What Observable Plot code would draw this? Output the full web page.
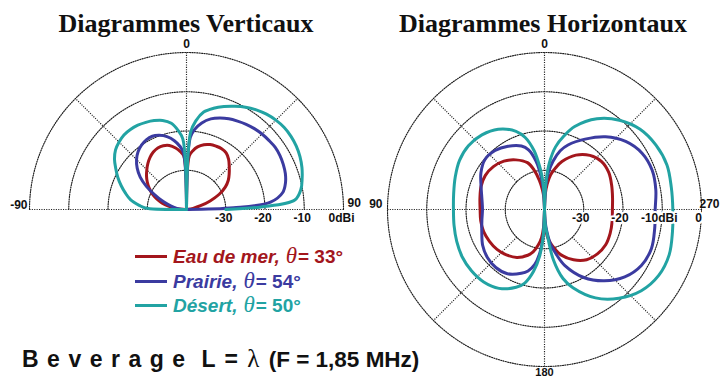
<!DOCTYPE html>
<html>
<head>
<meta charset="utf-8">
<script src="https://cdn.jsdelivr.net/npm/d3@7"></script>
<script src="https://cdn.jsdelivr.net/npm/@observablehq/plot@0.6"></script>
<style>
  html, body { margin: 0; padding: 0; background: #fff; }
  #page { position: relative; width: 721px; height: 379px; overflow: hidden; background: #fff; }
  #page svg { position: absolute; left: 0; top: 0; }
  .title { position: absolute; font: bold 26px "Liberation Serif", "Times New Roman", serif; color: #111; line-height: 26px; white-space: nowrap; transform: translateX(-50%); }
  .legend { position: absolute; left: 135px; top: 243px; font: italic bold 19px "Liberation Sans", Arial, sans-serif; }
  .legend .row { position: relative; height: 24.5px; line-height: 24px; white-space: nowrap; }
  .legend .sw { display: inline-block; width: 32px; height: 3px; vertical-align: middle; margin-right: 6px; position: relative; top: -1px; }
  .legend .th { font: italic 23px "Liberation Serif", "Times New Roman", serif; margin: 0 1px 0 6px; }
  .legend .val { font-style: normal; }
  .caption { position: absolute; left: 22px; top: 345px; font: bold 23px "Liberation Sans", Arial, sans-serif; line-height: 23px; white-space: nowrap; color: #111; }
  .caption .spaced { letter-spacing: 8.5px; }
  .caption .eq { letter-spacing: 1.5px; }
  .caption .lam { font: 25px "Liberation Serif", "Times New Roman", serif; letter-spacing: 3px; }
  .caption .small { font-size: 22.5px; }
</style>
</head>
<body>
<div id="page"></div>
<script>
// ---- radiation pattern data (gain in dBi) ----
// Vertical cut: angle measured from the zenith, negative towards the back (-90 .. 90)
const vertAngles = [-90, -88, -85, -80, -75, -70, -65, -60, -55, -50, -45, -40, -35, -30, -25, -20, -15, -10, -6, -3, 0,
                    3, 6, 10, 15, 20, 25, 30, 35, 40, 45, 50, 55, 60, 65, 70, 75, 80, 85, 88, 90];
const vertSea = [-40, -38.8, -37.2, -35.5, -33.5, -31.8, -30.3, -29.0, -27.8, -26.7, -25.7, -24.7, -23.8, -23.1, -22.7, -22.7, -23.1, -24.1, -25.2, -26.3, -40,
                 -26.3, -25.0, -23.8, -22.9, -22.4, -22.2, -22.1, -22.4, -23.3, -24.6, -25.8, -27.0, -28.6, -30.8, -33.6, -36.3, -38.3, -39.5, -39.9, -40];
const vertPrairie = [-40, -39.4, -38.2, -36.8, -35.2, -33.3, -31.0, -28.2, -25.6, -23.6, -22.0, -20.8, -20.0, -19.5, -19.4, -19.9, -20.8, -22.2, -23.8, -25.6, -40,
                     -21.6, -19.4, -17.6, -16.1, -15.2, -14.5, -14.0, -13.5, -13.1, -12.8, -12.6, -12.4, -12.5, -12.8, -13.2, -13.9, -15.1, -18.5, -28.0, -40];
const vertDesert = [-40, -29.5, -27.9, -25.5, -23.9, -22.3, -20.7, -19.2, -17.6, -16.4, -15.7, -15.2, -15.1, -15.2, -15.5, -15.9, -16.5, -17.7, -19.8, -22.0, -40,
                    -20.3, -17.3, -14.8, -13.3, -12.1, -11.0, -9.9, -9.0, -8.3, -7.8, -7.5, -7.5, -7.7, -8.1, -8.7, -9.5, -10.4, -12.3, -21.0, -30];

// Horizontal cut: azimuth, 0 at the top, 90 on the left, 270 on the right
const horizAngles = [0, 3, 6, 10, 15, 20, 30, 40, 50, 60, 70, 80, 90, 100, 110, 120, 130, 140, 150, 160, 165, 170, 174, 177, 180,
                     183, 186, 190, 195, 200, 210, 220, 230, 240, 250, 260, 270, 280, 290, 300, 310, 320, 330, 340, 345, 350, 354, 357, 360];
const horizSea = [-40, -37.0, -35.0, -32.5, -29.5, -27.3, -25.4, -23.9, -23.0, -22.6, -22.8, -23.3, -23.6, -23.5, -23.5, -23.8, -24.2, -24.9, -25.9, -27.6, -28.8, -30.8, -32.8, -35.5, -40,
                  -35.5, -33.0, -31.3, -29.5, -27.7, -25.2, -23.3, -22.4, -22.0, -22.2, -22.5, -22.7, -22.4, -21.8, -21.1, -21.0, -22.0, -24.0, -27.0, -29.0, -31.0, -33.5, -36.0, -40];
const horizPrairie = [-40, -35.0, -31.5, -27.5, -24.3, -22.8, -21.4, -20.4, -20.2, -21.3, -22.8, -23.8, -24.2, -23.8, -23.0, -21.8, -21.0, -20.7, -21.1, -22.7, -23.8, -25.8, -29.0, -33.0, -40,
                      -37.0, -34.5, -31.0, -28.0, -24.8, -20.0, -16.3, -13.3, -11.5, -11.0, -11.5, -11.8, -11.2, -10.8, -11.3, -13.0, -15.8, -19.3, -22.5, -24.5, -27.5, -30.5, -34.0, -40];
const horizDesert = [-40, -33.2, -29.5, -24.8, -21.0, -18.8, -16.4, -15.2, -14.7, -15.0, -15.8, -16.5, -16.8, -16.6, -16.2, -15.8, -15.7, -15.9, -16.8, -18.9, -20.6, -24.0, -28.0, -32.5, -40,
                     -36.0, -33.8, -27.0, -21.8, -18.8, -14.0, -10.5, -7.8, -6.4, -6.2, -6.9, -7.3, -7.2, -6.8, -7.2, -8.2, -10.3, -13.3, -17.5, -20.5, -23.8, -28.0, -33.0, -40];

// ---- series, grid and labels ----
const seriesNames = ["Eau de mer", "Prairie", "Désert"];
const seriesTheta = [33, 54, 50];
const seriesColors = ["#a3161c", "#3b3ba0", "#22a3a3"];

const dbFloor = -40;                    // gain at the centre of the polar grid
const ringLevels = [-30, -20, -10, 0];  // dBi circles
const vertRingLabels = ["-30", "-20", "-10", "0dBi"];
const horizRingLabels = ["-30", "-20", "-10dBi", "0"];
const vertAngleLabels = ["-90", "0", "90"];
const horizAngleLabels = ["0", "90", "180", "270"];

const titles = ["Diagrammes Verticaux", "Diagrammes Horizontaux"];

// ---- geometry helpers (data units: dB above the floor) ----
const rad = d => d * Math.PI / 180;
const radius = db => db - dbFloor;
const outer = radius(ringLevels[ringLevels.length - 1]);
const inner = radius(ringLevels[0]);
// vertical cut: angle from zenith, positive to the right
const vXY = (a, r) => ({x: r * Math.sin(rad(a)), y: r * Math.cos(rad(a))});
// horizontal cut: azimuth counter-clockwise from the top
const hXY = (a, r) => ({x: -r * Math.sin(rad(a)), y: r * Math.cos(rad(a))});

// one line per lobe so that each lobe closes cleanly on the centre
function lobes(angles, values, split, toXY) {
  const rows = [];
  angles.forEach((a, i) => {
    const p = toXY(a, radius(values[i]));
    if (a <= split) rows.push({lobe: 0, ...p});
    if (a >= split) rows.push({lobe: 1, ...p});
  });
  return rows;
}

const vertSeries = [vertSea, vertPrairie, vertDesert];
const horizSeries = [horizSea, horizPrairie, horizDesert];

const R_PX = 157;               // outer ring radius on screen
const cy = 209;
const centers = [186, 544];

const gridStyle = {stroke: "#1e1e1e", strokeWidth: 1.15, strokeDasharray: "1.1,1.3"};
const labelFont = {fontFamily: "Liberation Sans, Arial, sans-serif", fontWeight: "bold", fontSize: 12, fill: "#111"};

function scales(cx) {
  return {
    x: {domain: [-outer, outer], range: [cx - R_PX, cx + R_PX]},
    y: {domain: [-outer, outer], range: [cy + R_PX, cy - R_PX]}
  };
}

function curveMarks(series, angles, split, toXY) {
  return series.map((vals, k) =>
    Plot.line(lobes(angles, vals, split, toXY), {
      x: "x", y: "y", z: "lobe", stroke: seriesColors[k], strokeWidth: 3,
      curve: "catmull-rom", strokeLinejoin: "round", strokeLinecap: "round"
    })
  );
}

// ---- vertical diagram ----
const vArc = d3.range(-90, 90.01, 1.5);
const vRings = ringLevels.flatMap(l => vArc.map(a => ({ring: l, ...vXY(a, radius(l))})));
const vSpokes = [
  ...[-90, 0, 90].map(a => ({a, r0: 0})),
  ...[-45, 45].map(a => ({a, r0: inner}))
].map(s => ({x1: vXY(s.a, s.r0).x, y1: vXY(s.a, s.r0).y, x2: vXY(s.a, outer).x, y2: vXY(s.a, outer).y}));

const vertPlot = Plot.plot({
  width: 721, height: 379,
  ...scales(centers[0]),
  axis: null,
  style: {background: "transparent", overflow: "visible"},
  marks: [
    Plot.line(vRings, {x: "x", y: "y", z: "ring", ...gridStyle}),
    Plot.link(vSpokes, {x1: "x1", y1: "y1", x2: "x2", y2: "y2", ...gridStyle}),
    ...curveMarks(vertSeries, vertAngles, 0, vXY),
    Plot.text(ringLevels, {x: d => radius(d), y: 0, text: (d, i) => vertRingLabels[i], dy: 9, dx: -2, ...labelFont,
                           stroke: "white", strokeWidth: 4}),
    Plot.text([vertAngleLabels[1]], {x: 0, y: outer, dy: -8, ...labelFont}),
    Plot.text([vertAngleLabels[0]], {x: -outer, y: 0, dy: -4, dx: -2, textAnchor: "end", ...labelFont}),
    Plot.text([vertAngleLabels[2]], {x: outer, y: 0, dy: -6, dx: 4, textAnchor: "start", ...labelFont})
  ]
});

// ---- horizontal diagram ----
const hArc = d3.range(0, 360.01, 1.5);
const hRings = ringLevels.flatMap(l => hArc.map(a => ({ring: l, ...hXY(a, radius(l))})));
const hSpokes = [
  ...[0, 90, 180, 270].map(a => ({a, r0: 0})),
  ...[45, 135, 225, 315].map(a => ({a, r0: inner}))
].map(s => ({x1: hXY(s.a, s.r0).x, y1: hXY(s.a, s.r0).y, x2: hXY(s.a, outer).x, y2: hXY(s.a, outer).y}));

const horizPlot = Plot.plot({
  width: 721, height: 379,
  ...scales(centers[1]),
  axis: null,
  style: {background: "transparent", overflow: "visible"},
  marks: [
    Plot.line(hRings, {x: "x", y: "y", z: "ring", ...gridStyle}),
    Plot.link(hSpokes, {x1: "x1", y1: "y1", x2: "x2", y2: "y2", ...gridStyle}),
    ...curveMarks(horizSeries, horizAngles, 180, hXY),
    Plot.text(ringLevels, {x: d => radius(d), y: 0, text: (d, i) => horizRingLabels[i], dy: 9, dx: -3, ...labelFont,
                           stroke: "white", strokeWidth: 4}),
    Plot.text([horizAngleLabels[0]], {x: 0, y: outer, dy: -8, ...labelFont}),
    Plot.text([horizAngleLabels[1]], {x: -outer, y: 0, dy: -5, dx: -5, textAnchor: "end", ...labelFont}),
    Plot.text([horizAngleLabels[2]], {x: 0, y: -outer, dy: 5.5, fontSize: 11, fontFamily: labelFont.fontFamily, fontWeight: "bold", fill: "#111"}),
    Plot.text([horizAngleLabels[3]], {x: outer, y: 0, dy: -5, dx: -2, textAnchor: "start", ...labelFont})
  ]
});

// ---- page assembly ----
const page = d3.select("#page");
page.node().append(vertPlot, horizPlot);

const titleX = [186, 543];
titles.forEach((t, i) => {
  page.append("div").attr("class", "title").style("left", titleX[i] + "px").style("top", "11px").text(t);
});

const legend = page.append("div").attr("class", "legend");
seriesNames.forEach((name, k) => {
  const row = legend.append("div").attr("class", "row").style("color", seriesColors[k]);
  row.append("span").attr("class", "sw").style("background", seriesColors[k]);
  row.append("span").text(name + ",");
  row.append("span").attr("class", "th").text("θ");
  row.append("span").attr("class", "val").text("= " + seriesTheta[k] + "°");
});

const caption = page.append("div").attr("class", "caption");
caption.append("span").attr("class", "spaced").text("Beverage");
caption.append("span").attr("class", "eq").text(" L = ");
caption.append("span").attr("class", "lam").text("λ");
caption.append("span").attr("class", "small").text(" (F = 1,85 MHz)");
</script>
</body>
</html>
